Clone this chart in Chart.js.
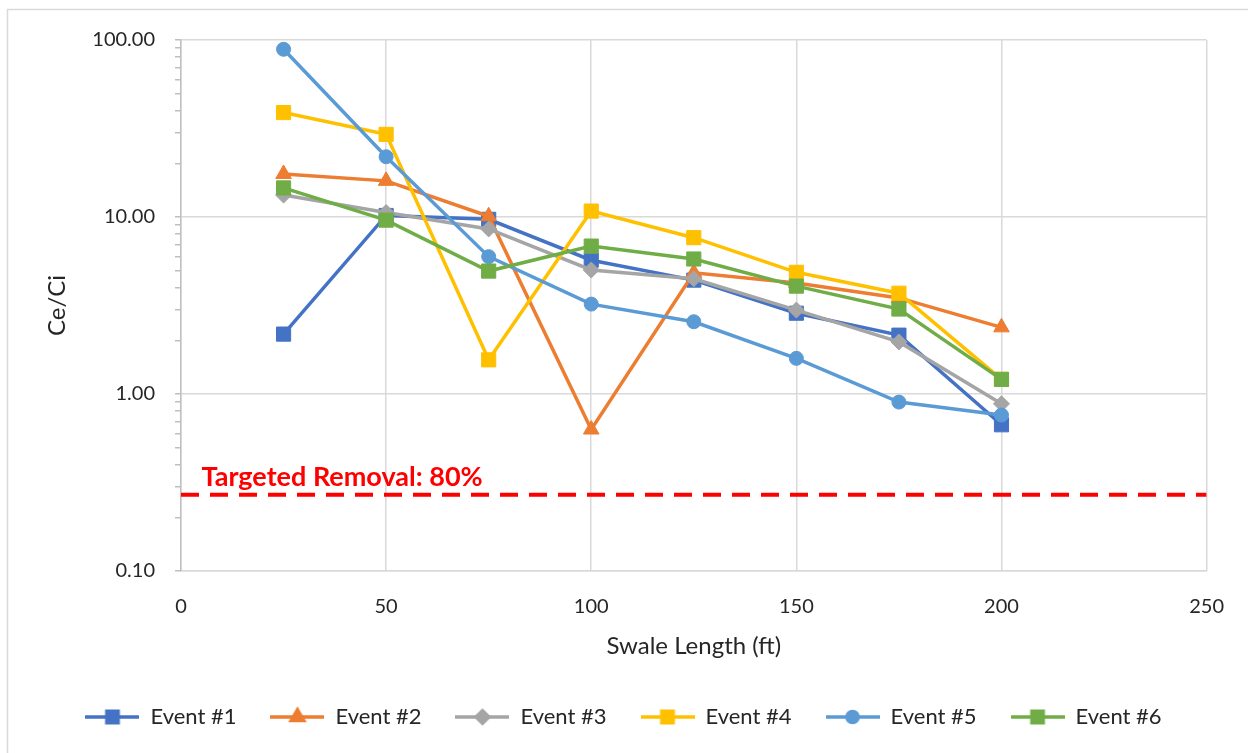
<!DOCTYPE html>
<html lang="en">
<head>
    <meta charset="UTF-8">
    <title>Ce/Ci vs Swale Length</title>
    <script src="https://cdn.jsdelivr.net/npm/chart.js"></script>
    <style>
        html, body { margin: 0; padding: 0; background: #fff; }
        #wrap { width: 1248px; height: 753px; }
    </style>
</head>
<body>
    <div id="wrap"><canvas id="swaleChart" width="1248" height="753"></canvas></div>

    <script>
        // data
        const swaleLength = [25, 50, 75, 100, 125, 150, 175, 200];
        const event1 = [2.18, 10.2, 9.7, 5.7, 4.4, 2.86, 2.15, 0.67];
        const event2 = [17.5, 16.0, 10.1, 0.63, 4.84, 4.24, 3.49, 2.38];
        const event3 = [13.3, 10.6, 8.56, 5.02, 4.48, 2.98, 1.97, 0.88];
        const event4 = [38.9, 29.3, 1.56, 10.8, 7.64, 4.87, 3.71, 1.21];
        const event5 = [88.6, 21.9, 5.97, 3.22, 2.56, 1.59, 0.90, 0.76];
        const event6 = [14.6, 9.6, 4.95, 6.85, 5.79, 4.07, 3.02, 1.21];

        const seriesNames = ['Event #1', 'Event #2', 'Event #3', 'Event #4', 'Event #5', 'Event #6'];
        const seriesValues = [event1, event2, event3, event4, event5, event6];

        const targetValue = 0.27;
        const targetLabel = 'Targeted Removal: 80%';
        const targetRange = [0, 250];

        const xTicks = [0, 50, 100, 150, 200, 250];
        const yMajorTicks = [0.1, 1, 10, 100];

        // styles
        const colors = ['#4472C4', '#ED7D31', '#A5A5A5', '#FFC000', '#5B9BD5', '#70AD47'];
        const markers = ['rect', 'triangle', 'rectRot', 'rect', 'circle', 'rect'];
        const radii = [10, 9, 8, 10, 7, 10];
        const FONT = 'Lato';

        function isMajor(v) {
            const l = Math.log10(v);
            return Math.abs(l - Math.round(l)) < 1e-9;
        }

        // little line + marker picture for the legend, like Excel does
        function legendIcon(color, style, r) {
            const c = document.createElement('canvas');
            c.width = 54; c.height = 22;
            const g = c.getContext('2d');
            g.strokeStyle = color;
            g.lineWidth = 3.5;
            g.beginPath();
            g.moveTo(0, 11); g.lineTo(54, 11);
            g.stroke();
            g.fillStyle = color;
            g.strokeStyle = color;
            Chart.helpers.drawPoint(g, {pointStyle: style, radius: r * 0.8, rotation: 0, borderWidth: 1}, 27, 11);
            return c;
        }

        const datasets = seriesNames.map((name, i) => ({
            label: name,
            data: swaleLength.map((x, j) => ({x: x, y: seriesValues[i][j]})),
            borderColor: colors[i],
            backgroundColor: colors[i],
            borderWidth: 3.5,
            pointStyle: markers[i],
            pointRadius: radii[i],
            pointHoverRadius: radii[i],
            pointBorderWidth: 1,
            tension: 0,
            order: seriesNames.length - i
        }));

        datasets.push({
            label: 'target',
            data: targetRange.map(x => ({x: x, y: targetValue})),
            borderColor: '#FF0000',
            borderWidth: 4,
            borderDash: [18, 11],
            pointRadius: 0,
            order: 10
        });

        const framePlugin = {
            id: 'frame',
            beforeDraw(chart) {
                const ctx = chart.ctx;
                ctx.save();
                ctx.fillStyle = '#fff';
                ctx.fillRect(0, 0, chart.width, chart.height);
                ctx.strokeStyle = '#d9d9d9';
                ctx.lineWidth = 1.5;
                ctx.strokeRect(7.5, 9.5, chart.width + 20, chart.height + 20);
                ctx.restore();
            }
        };

        const targetTextPlugin = {
            id: 'targetText',
            afterDatasetsDraw(chart) {
                const ctx = chart.ctx;
                const x = chart.scales.x.getPixelForValue(5);
                const y = chart.scales.y.getPixelForValue(targetValue);
                ctx.save();
                ctx.font = 'bold 27px ' + FONT;
                ctx.fillStyle = '#FF0000';
                ctx.textAlign = 'left';
                ctx.textBaseline = 'alphabetic';
                ctx.fillText(targetLabel, x, y - 9);
                ctx.restore();
            }
        };

        const ctx = document.getElementById('swaleChart').getContext('2d');
        const swaleChart = new Chart(ctx, {
            type: 'line',
            data: { datasets: datasets },
            options: {
                responsive: false,
                animation: false,
                layout: { padding: { top: 40, right: 41, left: 40, bottom: 15 } },
                scales: {
                    x: {
                        type: 'linear',
                        min: 0,
                        max: 250,
                        afterBuildTicks: scale => { scale.ticks = xTicks.map(v => ({value: v})); },
                        afterFit: scale => { scale.height = 101; },
                        grid: { color: '#d9d9d9', lineWidth: 1.5, drawTicks: false },
                        border: { color: '#d9d9d9', width: 1.5 },
                        ticks: { color: '#262626', font: { family: FONT, size: 20 }, padding: 24 },
                        title: {
                            display: true,
                            text: 'Swale Length (ft)',
                            color: '#262626',
                            font: { family: FONT, size: 24 },
                            padding: { top: 0, bottom: 11 }
                        }
                    },
                    y: {
                        type: 'logarithmic',
                        min: 0.1,
                        max: 100,
                        afterBuildTicks: scale => {
                            const list = [];
                            yMajorTicks.forEach((m, k) => {
                                list.push({value: m, major: true});
                                if (k < yMajorTicks.length - 1) {
                                    for (let s = 2; s <= 9; s++) list.push({value: m * s});
                                }
                            });
                            scale.ticks = list;
                        },
                        afterFit: scale => { scale.width = 141; },
                        grid: {
                            color: c => (c.tick && isMajor(c.tick.value)) ? '#d9d9d9' : 'rgba(0,0,0,0)',
                            lineWidth: 1.5,
                            tickColor: '#bfbfbf',
                            tickLength: 6
                        },
                        border: { color: '#bfbfbf', width: 1.5 },
                        ticks: {
                            autoSkip: false,
                            color: '#262626',
                            font: { family: FONT, size: 20 },
                            padding: 20,
                            callback: v => isMajor(v) ? Number(v).toFixed(2) : ''
                        },
                        title: {
                            display: true,
                            text: 'Ce/Ci',
                            color: '#262626',
                            font: { family: FONT, size: 24 },
                            padding: { top: 3, bottom: 0 }
                        }
                    }
                },
                plugins: {
                    tooltip: { enabled: false },
                    legend: {
                        position: 'bottom',
                        labels: {
                            usePointStyle: true,
                            pointStyleWidth: 54,
                            padding: 34,
                            color: '#262626',
                            font: { family: FONT, size: 22 },
                            generateLabels: chart => seriesNames.map((name, i) => ({
                                text: name,
                                datasetIndex: i,
                                pointStyle: legendIcon(colors[i], markers[i], radii[i]),
                                fillStyle: colors[i],
                                strokeStyle: colors[i],
                                lineWidth: 0,
                                fontColor: '#262626',
                                hidden: false
                            }))
                        }
                    }
                }
            },
            plugins: [framePlugin, targetTextPlugin]
        });
    </script>
</body>
</html>
